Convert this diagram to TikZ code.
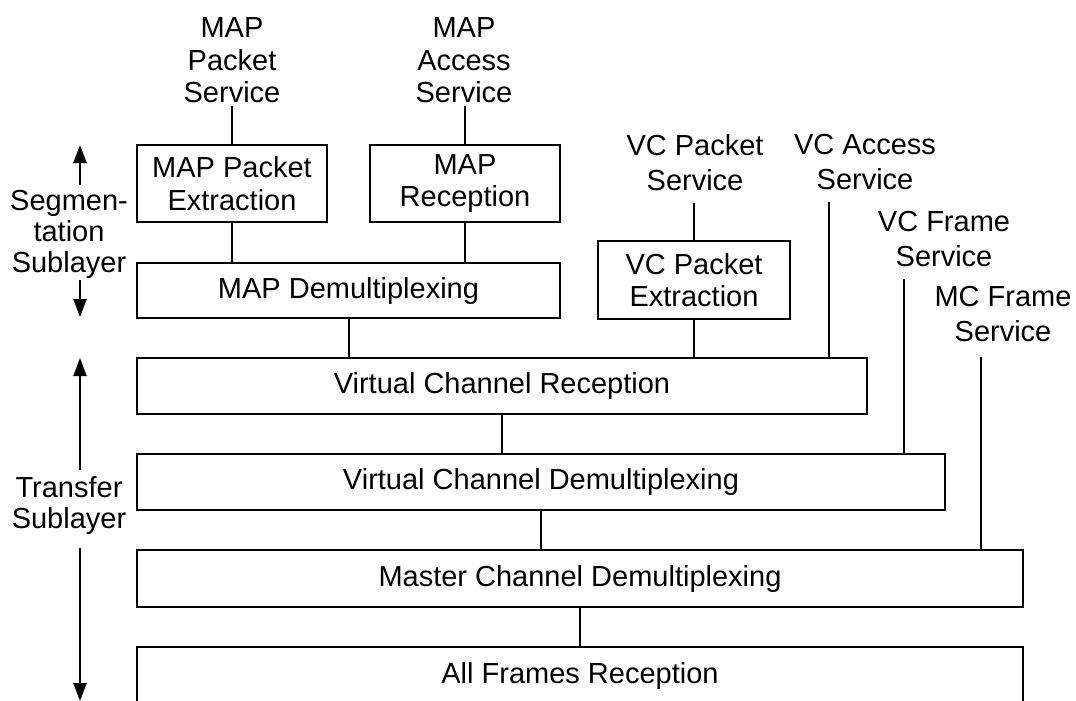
\documentclass[tikz,border=0pt]{standalone}
\usepackage{fontspec}
\setmainfont{Liberation Sans}
\usetikzlibrary{arrows.meta}
\newcommand{\lab}{\fontsize{29}{32.5}\selectfont}
\newcommand{\labw}{\fontsize{29}{35}\selectfont}
\newcommand{\labs}{\fontsize{29}{31}\selectfont}
\begin{document}
\begin{tikzpicture}[x=1pt,y=-1pt,
  box/.style={draw, line width=2pt, inner sep=0pt, align=center, font=\lab},
  lbl/.style={inner sep=0pt, align=center, font=\lab},
  lblw/.style={inner sep=0pt, align=center, font=\labw},
  lbls/.style={inner sep=0pt, align=center, font=\labs},
  ln/.style={line width=2pt},
  arr/.style={line width=2pt, -{Triangle[width=13pt,length=18pt]}}]
\useasboundingbox (0,0) rectangle (1076,701);

% boxes
\node[box, minimum width=190pt, minimum height=77pt] (mpe) at (232,183.5) {MAP Packet\\Extraction};
\node[box, minimum width=190pt, minimum height=77pt] (mr) at (465,183.5) {MAP\\Reception};
\node[box, minimum width=423pt, minimum height=55pt] (demux) at (348.5,290.5) {MAP Demultiplexing};
\node[box, minimum width=192pt, minimum height=78pt] (vcpe) at (694,280) {VC Packet\\Extraction};
\node[box, minimum width=730pt, minimum height=56pt] (vcr) at (502,386) {Virtual Channel Reception};
\node[box, minimum width=808pt, minimum height=56pt] (vcd) at (541,482) {Virtual Channel Demultiplexing};
\node[box, minimum width=886pt, minimum height=57pt] (mcd) at (580,578.5) {Master Channel Demultiplexing};
\node[box, minimum width=886pt, minimum height=58pt] (afr) at (580,676) {All Frames Reception};

% service labels
\node[lbl] (mps) at (232,60.5) {MAP\\Packet\\Service};
\node[lbl] (mas) at (464,60.5) {MAP\\Access\\Service};
\node[lblw] (vcps) at (695,162.5) {VC Packet\\Service};
\node[lblw] (vcas) at (865,162.5) {VC Access\\Service};
\node[lblw] (vcfs) at (944,239.5) {VC Frame\\Service};
\node[lblw] (mcfs) at (1003,314.5) {MC Frame\\Service};

% sublayer labels
\node[lbls] (seg) at (69,234) {Segmen-\\tation\\Sublayer};
\node[lbls] (tra) at (69,505.5) {Transfer\\Sublayer};

% connectors
\draw[ln, shorten >=3pt] (mpe.north) -- (mpe.north |- mps.south);
\draw[ln, shorten >=3pt] (mr.north) -- (mr.north |- mas.south);
\draw[ln] (mpe.south) -- (mpe.south |- demux.north);
\draw[ln] (mr.south) -- (mr.south |- demux.north);
\draw[ln] (demux.south) -- (demux.south |- vcr.north);
\draw[ln, shorten >=12pt] (vcpe.north) -- (vcpe.north |- vcps.south);
\draw[ln] (vcpe.south) -- (vcpe.south |- vcr.north);
\coordinate (vcaT) at (829,202);
\coordinate (vcfT) at (904,279);
\coordinate (mcfT) at (981,357);
\draw[ln] (vcaT) -- (vcaT |- vcr.north);
\draw[ln] (vcfT) -- (vcfT |- vcd.north);
\draw[ln] (mcfT) -- (mcfT |- mcd.north);
\draw[ln] (vcr.south) -- (vcr.south |- vcd.north);
\draw[ln] (vcd.south) -- (vcd.south |- mcd.north);
\draw[ln] (mcd.south) -- (mcd.south |- afr.north);

% sublayer arrows
\coordinate (s1a) at (80,185);
\coordinate (s1b) at (80,145);
\coordinate (s2a) at (80,280);
\coordinate (s2b) at (80,317);
\coordinate (t1a) at (80,470);
\coordinate (t1b) at (80,358);
\coordinate (t2a) at (80,548);
\coordinate (t2b) at (80,701);
\draw[arr] (s1a) -- (s1b);
\draw[arr] (s2a) -- (s2b);
\draw[arr] (t1a) -- (t1b);
\draw[arr] (t2a) -- (t2b);
\end{tikzpicture}
\end{document}
